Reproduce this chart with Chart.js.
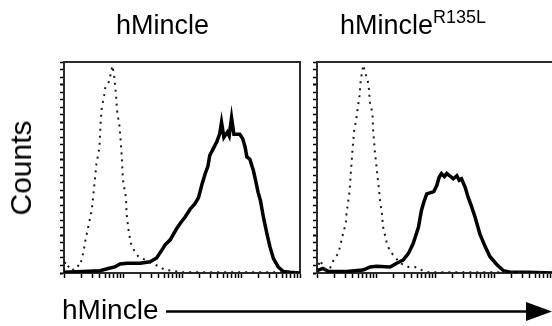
<!DOCTYPE html>
<html>
<head>
<meta charset="utf-8">
<script src="https://cdn.jsdelivr.net/npm/chart.js@4"></script>
<style>
  html, body { margin: 0; padding: 0; width: 552px; height: 326px; overflow: hidden; background: #fff; }
  body { position: relative; font-family: 'Liberation Sans', Arial, sans-serif; color: #000; }
  canvas { position: absolute; top: 0; }
  #c1 { left: 0; }
  #c2 { left: 300px; }
  .lbl { position: absolute; white-space: nowrap; font-size: 27px; line-height: 1; }
  .lbl sup { font-size: 18px; vertical-align: 0; position: relative; top: -11px; }
  #t1 { left: 116px; top: 12px; }
  #t2 { left: 340px; top: 12px; }
  #ylab { left: 21px; top: 168px; font-size: 30px; transform: translate(-50%, -50%) rotate(-90deg); }
  #xlab { left: 62px; top: 296px; font-size: 28px; }
  #arrow { position: absolute; left: 0; top: 0; }
</style>
</head>
<body>
<canvas id="c1" width="310" height="300"></canvas>
<canvas id="c2" width="260" height="300"></canvas>
<div class="lbl" id="t1">hMincle</div>
<div class="lbl" id="t2">hMincle<sup>R135L</sup></div>
<div class="lbl" id="ylab">Counts</div>
<div class="lbl" id="xlab">hMincle</div>
<svg id="arrow" width="552" height="326">
  <line x1="166" y1="311.5" x2="530" y2="311.5" stroke="#000" stroke-width="2.5" />
  <polygon points="526,302 552,311.5 526,321" fill="#000" />
</svg>
<script>
// channel positions are in decades (0..4), counts in arbitrary units (axis 0..280)
const wtIsoExp = [0, 0.02, 0.08, 0.14, 0.22, 0.27, 0.33, 0.36, 0.41, 0.47, 0.5, 0.525, 0.55, 0.6, 0.62, 0.64, 0.68, 0.7, 0.77, 0.79, 0.82, 0.85, 0.88, 0.9, 0.94, 0.96, 0.98, 1.0, 1.05, 1.06, 1.09, 1.13, 1.2, 1.26, 1.46, 1.63, 1.71, 1.83, 2.0, 4.0]
const wtIsoCounts = [3, 15, 8, 3, 10, 9, 28, 42, 61, 83, 106, 125, 145, 166, 198, 219, 235, 246, 255, 264, 275, 262, 238, 215, 195, 176, 153, 123, 100, 79, 59, 40, 28, 22, 14, 8, 4, 3, 1, 1]

const wtExp = [0, 0.32, 0.61, 0.75, 0.86, 0.95, 1.07, 1.29, 1.46, 1.57, 1.68, 1.71, 1.8, 1.91, 1.99, 2.05, 2.14, 2.22, 2.28, 2.34, 2.39, 2.44, 2.47, 2.53, 2.59, 2.64, 2.67, 2.71, 2.77, 2.8, 2.84, 2.88, 2.94, 2.98, 3.03, 3.07, 3.1, 3.15, 3.21, 3.25, 3.29, 3.33, 3.38, 3.44, 3.49, 3.55, 3.63, 3.72, 3.83, 4.0]
const wtCounts = [1, 2, 3, 6, 8, 12, 13, 13, 15, 20, 33, 37, 44, 59, 68, 74, 85, 92, 100, 118, 131, 142, 156, 165, 174, 185, 200, 180, 187, 182, 206, 184, 184, 184, 178, 167, 154, 151, 136, 122, 107, 96, 74, 52, 35, 19, 8, 2, 1, 0]

const mutIsoExp = [0, 0.05, 0.14, 0.22, 0.28, 0.36, 0.39, 0.45, 0.49, 0.5, 0.55, 0.58, 0.6, 0.63, 0.66, 0.68, 0.72, 0.74, 0.76, 0.785, 0.82, 0.86, 0.88, 0.89, 0.9, 0.94, 0.95, 0.98, 1.01, 1.04, 1.07, 1.1, 1.12, 1.18, 1.23, 1.29, 1.41, 1.55, 1.66, 1.77, 1.89, 4.0]
const mutIsoCounts = [2, 17, 4, 6, 17, 26, 35, 55, 66, 79, 107, 140, 162, 189, 202, 213, 235, 255, 265, 276, 265, 255, 244, 233, 224, 213, 191, 162, 140, 118, 96, 79, 61, 41, 30, 24, 13, 8, 8, 4, 1, 1]

const mutExp = [0, 0.1, 0.2, 0.5, 0.78, 0.9, 1.01, 1.24, 1.35, 1.46, 1.55, 1.63, 1.72, 1.77, 1.81, 1.86, 1.94, 1.98, 2.03, 2.07, 2.11, 2.16, 2.2, 2.25, 2.31, 2.37, 2.41, 2.45, 2.51, 2.56, 2.62, 2.68, 2.76, 2.85, 2.93, 3.05, 3.16, 3.27, 3.58, 4.0]
const mutCounts = [3, 6, 2, 2, 4, 8, 9, 8, 13, 17, 26, 39, 61, 83, 94, 105, 107, 108, 116, 127, 132, 128, 132, 129, 125, 129, 123, 125, 114, 101, 88, 74, 52, 35, 22, 11, 3, 1, 1, 0]

// log axis tick marks: 1..9 in each decade
const decades = [1, 10, 100, 1000]
const decadeSteps = [1, 2, 3, 4, 5, 6, 7, 8, 9]
const countMax = 280
const countStep = 10

const frameColour = '#2a2a2a'

function toPoints(exps, counts) {
  return exps.map((e, i) => ({ x: Math.pow(10, e), y: counts[i] }))
}

function histogramDatasets(isoExp, isoCounts, exp, counts) {
  return [
    {
      label: 'isotype',
      data: toPoints(isoExp, isoCounts),
      borderColor: '#1a1a1a',
      borderWidth: 2,
      borderDash: [2, 5],
      pointRadius: 0,
      tension: 0,
    },
    {
      label: 'hMincle',
      data: toPoints(exp, counts),
      borderColor: '#000',
      borderWidth: 3.5,
      pointRadius: 0,
      tension: 0,
      borderJoinStyle: 'miter',
    },
  ]
}

function frameAxis(position) {
  return {
    type: 'linear',
    position,
    grid: { drawOnChartArea: false, drawTicks: false },
    ticks: { display: false },
    border: { display: true, color: frameColour, width: 2 },
  }
}

function panelOptions(padding) {
  return {
    responsive: false,
    animation: false,
    events: [],
    layout: { padding },
    plugins: { legend: { display: false }, tooltip: { enabled: false } },
    scales: {
      x: {
        type: 'logarithmic',
        min: 1,
        max: 10000,
        afterBuildTicks: (scale) => {
          const ticks = decades.flatMap((d) => decadeSteps.map((s) => ({ value: s * d })))
          ticks.push({ value: 10000 })
          scale.ticks = ticks
        },
        ticks: { display: false },
        grid: { drawOnChartArea: false, drawTicks: true, tickLength: 5, tickColor: '#000', tickWidth: 1.5 },
        border: { display: true, color: frameColour, width: 2 },
      },
      y: {
        type: 'linear',
        min: 0,
        max: countMax,
        ticks: { display: false, stepSize: countStep },
        grid: {
          drawOnChartArea: false,
          drawTicks: true,
          tickLength: 4,
          tickColor: '#000',
          tickWidth: (ctx) => (ctx.tick && ctx.tick.value % 50 === 0 ? 2 : 1.5),
        },
        border: { display: true, color: frameColour, width: 2 },
      },
      xTop: frameAxis('top'),
      yRight: frameAxis('right'),
    },
  }
}

new Chart(document.getElementById('c1'), {
  type: 'line',
  data: { datasets: histogramDatasets(wtIsoExp, wtIsoCounts, wtExp, wtCounts) },
  options: panelOptions({ left: 60, top: 62, right: 10, bottom: 22 }),
})

new Chart(document.getElementById('c2'), {
  type: 'line',
  data: { datasets: histogramDatasets(mutIsoExp, mutIsoCounts, mutExp, mutCounts) },
  options: panelOptions({ left: 13, top: 62, right: 7, bottom: 22 }),
})
</script>
</body>
</html>
